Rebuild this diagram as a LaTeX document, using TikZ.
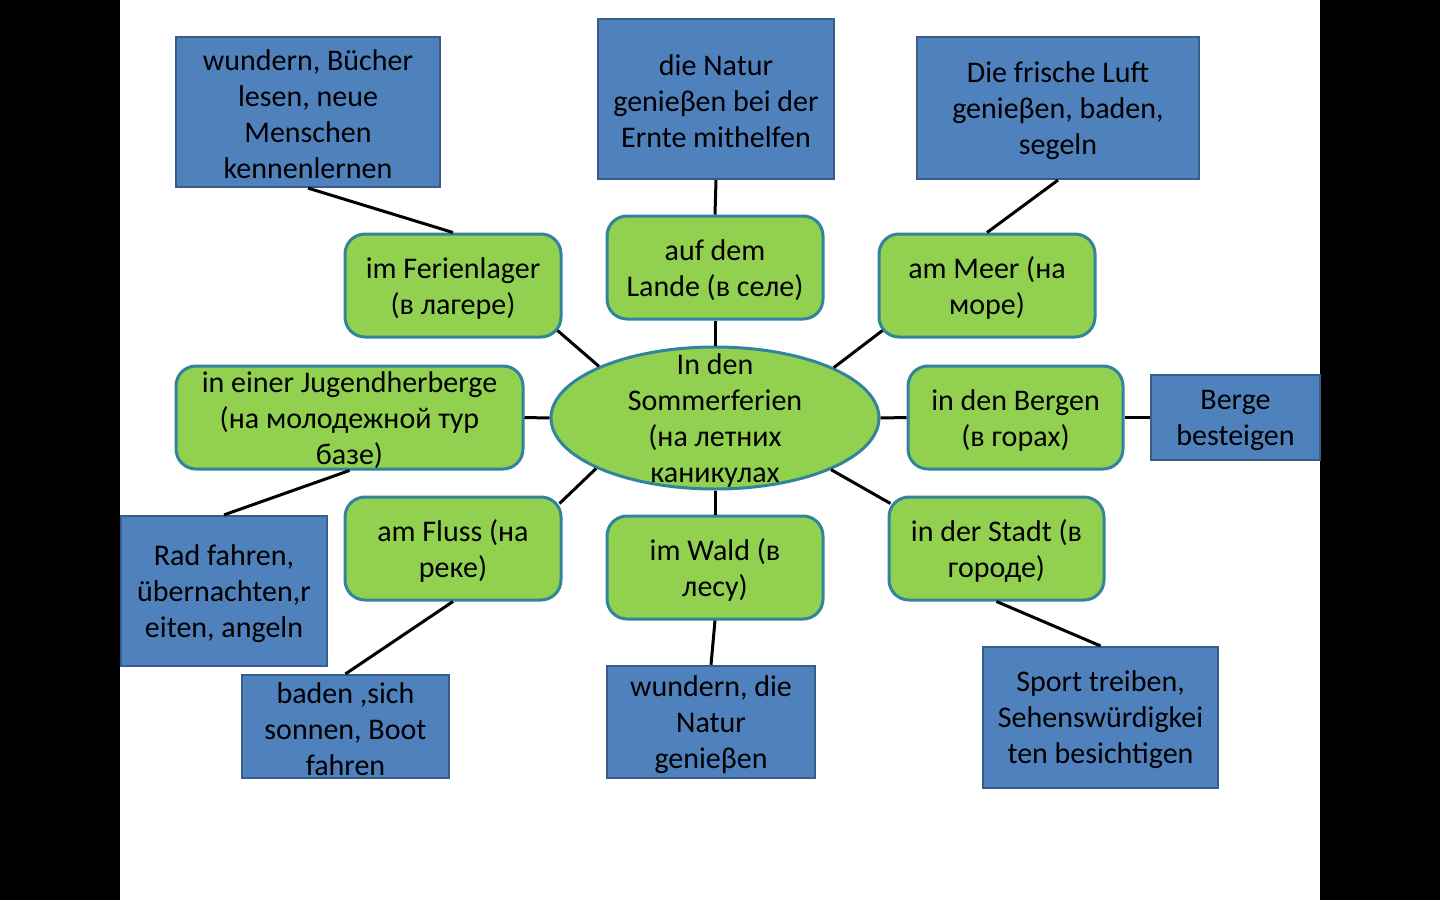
\documentclass[tikz,border=0pt]{standalone}
\usepackage{fontspec}
\setmainfont{Carlito}
\usetikzlibrary{shapes.geometric,calc}
\definecolor{bfill}{HTML}{4F81BD}
\definecolor{bdraw}{HTML}{385D8A}
\definecolor{gfill}{HTML}{92D050}
\definecolor{gdraw}{HTML}{31849B}
\begin{document}
\begin{tikzpicture}[x=0.5pt,y=-0.5pt,
  bluebox/.style={draw=bdraw,fill=bfill,line width=1.1pt,inner sep=0pt},
  greenbox/.style={draw=gdraw,fill=gfill,line width=1.5pt,rounded corners=10pt,inner sep=0pt,minimum width=108pt,minimum height=51.5pt},
  ellip/.style={ellipse,draw=gdraw,fill=gfill,line width=1.5pt,inner sep=0pt,minimum width=164pt,minimum height=71pt},
  txt/.style={align=center,font=\fontsize{15}{18}\selectfont,inner sep=0pt,text=black,yshift=-1.3pt},
  conn/.style={line width=1.5pt,black}]
\useasboundingbox (0,0) rectangle (1440,900);
\fill[black] (0,0) rectangle (1440,900);
\fill[white] (120,0) rectangle (1320,900);

% blue boxes
\node[bluebox,minimum width=132pt,minimum height=75pt] (B1) at (308,112) {};
\node[bluebox,minimum width=118pt,minimum height=80pt] (B2) at (716,99) {};
\node[bluebox,minimum width=141pt,minimum height=71pt] (B3) at (1058,108) {};
\node[bluebox,minimum width=84.5pt,minimum height=42.5pt] (B4) at (1235.5,417.5) {};
\node[bluebox,minimum width=103pt,minimum height=75pt] (B5) at (224,591) {};
\node[bluebox,minimum width=103.5pt,minimum height=51.5pt] (B6) at (345.5,726.5) {};
\node[bluebox,minimum width=104pt,minimum height=56pt] (B7) at (711,722) {};
\node[bluebox,minimum width=117.5pt,minimum height=70.5pt] (B8) at (1100.5,717.5) {};

% green boxes
\node[greenbox] (G1) at (453,285.5) {};
\node[greenbox] (G2) at (715,267.5) {};
\node[greenbox] (G3) at (987,285.5) {};
\node[greenbox,minimum width=173.5pt] (G4) at (349.5,417.5) {};
\node[greenbox,minimum width=107.5pt] (G5) at (1015.5,417.5) {};
\node[greenbox] (G6) at (453,548.5) {};
\node[greenbox] (G7) at (715,567.5) {};
\node[greenbox,minimum width=107.5pt] (G8) at (996.5,548.5) {};

% centre ellipse
\node[ellip] (E) at (715,418) {};

% connectors
\draw[conn] (B1.south) -- (G1.north);
\draw[conn] (B2.south) -- (G2.north);
\draw[conn] (B3.south) -- (G3.north);
\draw[conn] (G2.south) -- (E.north);
\draw[conn] (G7.north) -- (E.south);
\draw[conn] (G4.east) -- (E.west);
\draw[conn] (G5.west) -- (E.east);
\draw[conn] (G5.east) -- (B4.west);
\draw[conn] ($(G1.south east)+(-5,-8)$) -- (E.156.5);
\draw[conn] ($(G3.south west)+(5,-8)$) -- (E.23.5);
\draw[conn] ($(G6.north east)+(-3,8)$) -- (E.203.5);
\draw[conn] ($(G8.north west)+(3,8)$) -- (E.336.5);
\draw[conn] (G4.south) -- (B5.north);
\draw[conn] (G6.south) -- (B6.north);
\draw[conn] (G7.south) -- (B7.north);
\draw[conn] (G8.south) -- (B8.north);

% texts
\node[txt] (B1t) at (B1) {wundern, Bücher\\lesen, neue\\Menschen\\kennenlernen};
\node[txt] (B2t) at (B2) {die Natur\\genieβen bei der\\Ernte mithelfen};
\node[txt] (B3t) at (B3) {Die frische Luft\\genieβen, baden,\\segeln};
\node[txt] (B4t) at (B4) {Berge\\besteigen};
\node[txt] (B5t) at (B5) {Rad fahren,\\übernachten,r\\eiten, angeln};
\node[txt] (B6t) at (B6) {baden ,sich\\sonnen, Boot\\fahren};
\node[txt] (B7t) at (B7) {wundern, die\\Natur\\genieβen};
\node[txt] (B8t) at (B8) {Sport treiben,\\Sehenswürdigkei\\ten besichtigen};
\node[txt] (G1t) at (G1) {im Ferienlager\\(в лагере)};
\node[txt] (G2t) at (G2) {auf dem\\Lande (в селе)};
\node[txt] (G3t) at (G3) {am Meer (на\\море)};
\node[txt] (G4t) at (G4) {in einer Jugendherberge\\(на молодежной тур\\базе)};
\node[txt] (G5t) at (G5) {in den Bergen\\(в горах)};
\node[txt] (G6t) at (G6) {am Fluss (на\\реке)};
\node[txt] (G7t) at (G7) {im Wald (в\\лесу)};
\node[txt] (G8t) at (G8) {in der Stadt (в\\городе)};
\node[txt] (Et) at (E) {In den\\Sommerferien\\(на летних\\каникулах};
\end{tikzpicture}
\end{document}
